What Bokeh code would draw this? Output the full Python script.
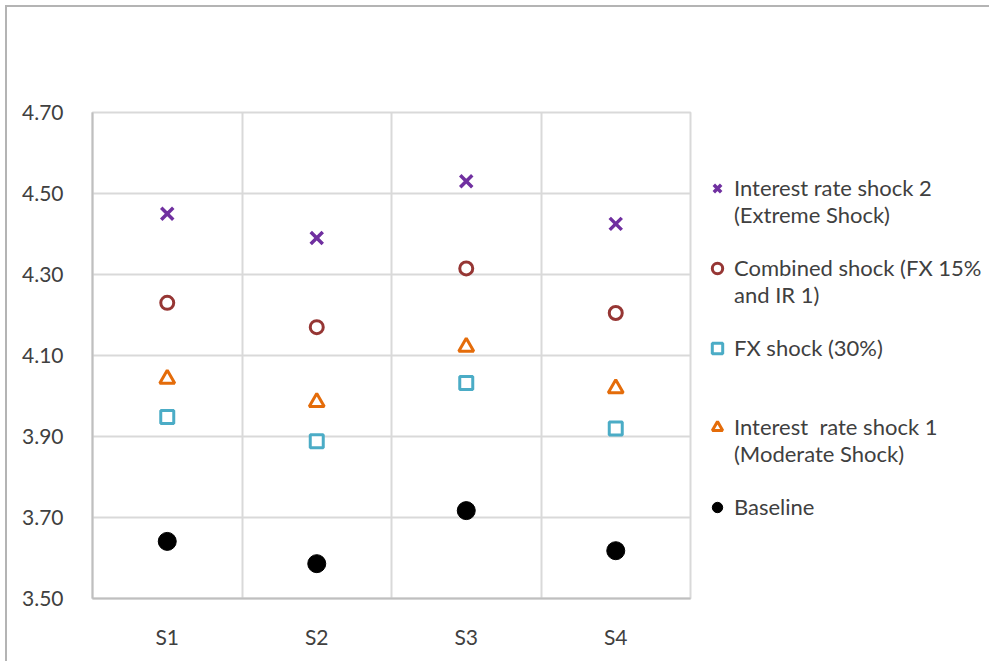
from bokeh.plotting import figure
from bokeh.models import (FactorRange, FixedTicker, Legend, LegendItem, Range1d,
                          NumeralTickFormatter, InlineStyleSheet)
from bokeh.embed import file_html
from bokeh.resources import INLINE

categories = ["S1", "S2", "S3", "S4"]
ir_shock_2 = [4.45, 4.39, 4.53, 4.425]
combined = [4.23, 4.17, 4.315, 4.205]
fx_shock = [3.948, 3.888, 4.032, 3.92]
ir_shock_1 = [4.042, 3.985, 4.121, 4.019]
baseline = [3.641, 3.586, 3.717, 3.618]
y_ticks = [3.5, 3.7, 3.9, 4.1, 4.3, 4.5, 4.7]

# legend text, one list entry per wrapped line (None = renderer glyph shown on that line)
legend_lines = [
    ("Interest rate shock 2", "x"), ("(Extreme Shock)", None), (" ", None),
    ("Combined shock (FX 15%", "c"), ("and IR 1)", None), (" ", None),
    ("FX shock (30%)", "s"), (" ", None), (" ", None),
    ("Interest  rate shock 1", "t"), ("(Moderate Shock)", None), (" ", None),
    ("Baseline", "b"),
]

FONT = "Lato"
TXT = "#404040"

p = figure(frame_width=598, frame_height=486, output_backend="svg", toolbar_location=None,
           x_range=FactorRange(*categories), y_range=Range1d(3.5, 4.7),
           min_border_left=92, min_border_right=0, min_border_top=112,
           min_border_bottom=63)
p.stylesheets = [InlineStyleSheet(css=(
    ":host { position: relative; }"
    ":host::after { content: ''; position: absolute; left: 5px; top: 5px; right: -20px;"
    " bottom: -20px; border-top: 2px solid #b4b4b4; border-left: 2px solid #b4b4b4;"
    " pointer-events: none; }"))]

p.outline_line_color = "#d9d9d9"
p.outline_line_width = 2

r_x = p.scatter(categories, ir_shock_2, marker="x", size=17, line_color="#7030a0", line_width=3.5)
r_c = p.scatter(categories, combined, marker="circle", size=13, line_color="#963634",
                fill_color="white", line_width=3)
r_s = p.scatter(categories, fx_shock, marker="square", size=13, line_color="#4bacc6",
                fill_color="white", line_width=3)
r_t = p.scatter(categories, ir_shock_1, marker="triangle", size=15, line_color="#e46c0a",
                fill_color="white", line_width=3)
r_b = p.scatter(categories, baseline, marker="circle", size=18, line_color="black",
                fill_color="black")
rmap = {"x": r_x, "c": r_c, "s": r_s, "t": r_t, "b": r_b}

p.yaxis.ticker = FixedTicker(ticks=y_ticks)
p.yaxis.formatter = NumeralTickFormatter(format="0.00")

for ax in (p.xaxis, p.yaxis):
    ax.major_tick_line_color = None
    ax.minor_tick_line_color = None
    ax.axis_line_color = "#bfbfbf"
    ax.axis_line_width = 2
    ax.major_label_text_font = FONT
    ax.major_label_text_font_size = "21px"
    ax.major_label_text_color = TXT
p.yaxis.major_label_standoff = 23
p.xaxis.major_label_standoff = 19

p.ygrid.ticker = FixedTicker(ticks=y_ticks)
p.ygrid.grid_line_color = "#d9d9d9"
p.ygrid.grid_line_width = 2
p.xgrid.ticker = FixedTicker(ticks=[1, 2, 3])
p.xgrid.grid_line_color = "#d9d9d9"
p.xgrid.grid_line_width = 2

items = [LegendItem(label=t, renderers=([rmap[k]] if k else [])) for t, k in legend_lines]
legend = Legend(items=items, location=(10, 78), orientation="vertical")
legend.border_line_color = None
legend.background_fill_alpha = 0
legend.label_text_font = FONT
legend.label_text_font_size = "22px"
legend.label_text_color = TXT
legend.glyph_width = 34
legend.glyph_height = 26
legend.label_height = 24
legend.label_standoff = 0
legend.spacing = 0
legend.padding = 0
legend.margin = 0
p.add_layout(legend, "right")

open("out.html", "w").write(file_html(p, INLINE))
